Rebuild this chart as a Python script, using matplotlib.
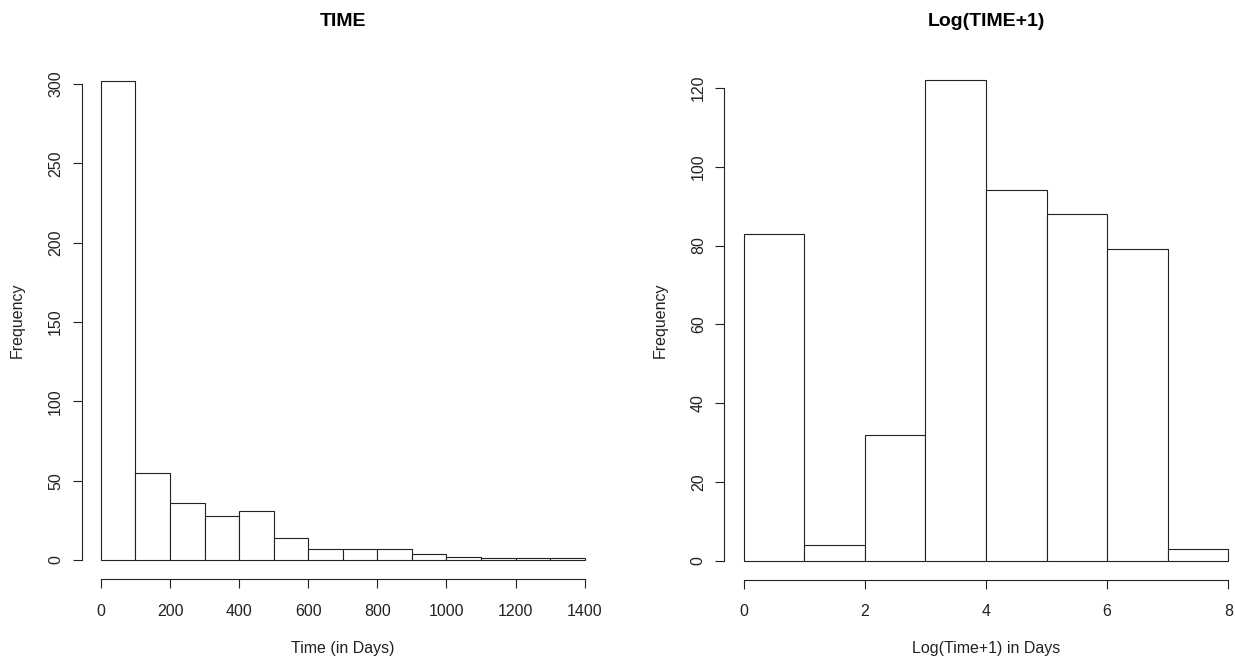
import numpy as np
import matplotlib
matplotlib.use("Agg")
import matplotlib.pyplot as plt

plt.rcParams["font.family"] = ["Liberation Sans", "DejaVu Sans"]

# histogram data
time_edges = [0, 100, 200, 300, 400, 500, 600, 700, 800, 900, 1000, 1100, 1200, 1300, 1400]
time_counts = [302, 55, 36, 28, 31, 14, 7, 7, 7, 4, 2, 1, 1, 1]
time_xticks = [0, 200, 400, 600, 800, 1000, 1200, 1400]
time_yticks = [0, 50, 100, 150, 200, 250, 300]

log_edges = [0, 1, 2, 3, 4, 5, 6, 7, 8]
log_counts = [83, 4, 32, 122, 94, 88, 79, 3]
log_xticks = [0, 2, 4, 6, 8]
log_yticks = [0, 20, 40, 60, 80, 100, 120]

W, H = 1235, 660
fig = plt.figure(figsize=(W / 100, H / 100), dpi=100)


def r_hist(box, edges, counts, xticks, yticks, title, xlabel):
    # box = plot region in pixels: left, top, right, bottom
    l, t, r, b = box
    ax = fig.add_axes([l / W, 1 - b / H, (r - l) / W, (b - t) / H])
    edges = np.array(edges)
    ax.bar(edges[:-1], counts, width=np.diff(edges), align="edge",
           facecolor="white", edgecolor="#222222", linewidth=0.8)
    # R style: 4% extension on each side
    xr = edges[-1] - edges[0]
    yr = max(counts)
    ax.set_xlim(edges[0] - 0.04 * xr, edges[-1] + 0.04 * xr)
    ax.set_ylim(-0.04 * yr, yr * 1.04)
    for s in ["top", "right"]:
        ax.spines[s].set_visible(False)
    ax.spines["bottom"].set_bounds(xticks[0], xticks[-1])
    ax.spines["left"].set_bounds(yticks[0], yticks[-1])
    for s in ["bottom", "left"]:
        ax.spines[s].set_linewidth(0.8)
        ax.spines[s].set_color("#222222")
    ax.set_xticks(xticks)
    ax.set_yticks(yticks)
    ax.tick_params(axis="both", length=6.5, width=0.8, labelsize=11.5,
                   color="#222222", labelcolor="#222222")
    ax.tick_params(axis="x", pad=11)
    ax.tick_params(axis="y", pad=6.8, labelrotation=90)
    for lab in ax.get_yticklabels():
        lab.set_va("center")
    ax.set_title(title, fontsize=14, fontweight="bold", pad=(t - 26) * 0.72)
    ax.set_xlabel(xlabel, fontsize=11.5, va="center", color="#222222")
    ax.set_ylabel("Frequency", fontsize=11.5, va="center", color="#222222")
    ax.xaxis.set_label_coords((l + r) / 2 / W, 1 - 649 / H, transform=fig.transFigure)
    ax.yaxis.set_label_coords((l - 64.5) / W, 1 - (t + b) / 2 / H, transform=fig.transFigure)
    return ax


r_hist((81.6, 61.6, 604.0, 579.2), time_edges, time_counts, time_xticks, time_yticks,
       "TIME", "Time (in Days)")
r_hist((724.3, 60.9, 1247.7, 579.9), log_edges, log_counts, log_xticks, log_yticks,
       "Log(TIME+1)", "Log(Time+1) in Days")

fig.savefig("out.png", dpi=100)
